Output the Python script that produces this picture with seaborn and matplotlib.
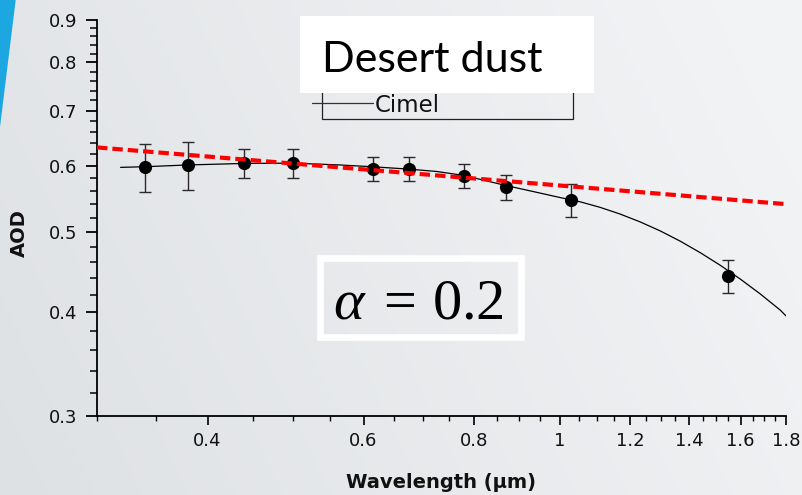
import numpy as np
import matplotlib
matplotlib.use("Agg")
import matplotlib.pyplot as plt
import seaborn as sns
from matplotlib.patches import Rectangle, Polygon
from matplotlib.lines import Line2D
from matplotlib.ticker import FixedLocator, FixedFormatter, NullFormatter

# Cimel sun-photometer AOD spectrum for a desert-dust case
wavelength = [0.34, 0.38, 0.44, 0.50, 0.615, 0.675, 0.78, 0.87, 1.03, 1.55]
aod = [0.598, 0.602, 0.605, 0.605, 0.595, 0.596, 0.584, 0.566, 0.546, 0.442]
aod_err = [0.040, 0.040, 0.025, 0.025, 0.020, 0.020, 0.020, 0.020, 0.025, 0.020]

# Smooth spectral fit through the measurements
fit_wl = [0.319, 0.339, 0.38, 0.439, 0.499, 0.564, 0.614, 0.673, 0.726, 0.779,
          0.869, 0.932, 1.0, 1.054, 1.110, 1.169, 1.232, 1.298, 1.367, 1.440,
          1.517, 1.598, 1.684, 1.774, 1.80]
fit_aod = [0.598, 0.599, 0.602, 0.6045, 0.605, 0.602, 0.599, 0.5952, 0.5912, 0.5847,
           0.5686, 0.5593, 0.5500, 0.5435, 0.5352, 0.5254, 0.5140, 0.5013, 0.4873, 0.4720,
           0.4558, 0.4387, 0.4208, 0.4023, 0.3960]

# Power-law (Angstrom) reference line
angstrom_wl = [0.30, 1.80]
angstrom_aod = [0.632, 0.540]

x_major = [0.4, 0.6, 0.8, 1.0, 1.2, 1.4, 1.6, 1.8]
x_labels = ["0.4", "0.6", "0.8", "1", "1.2", "1.4", "1.6", "1.8"]
y_major = [0.3, 0.4, 0.5, 0.6, 0.7, 0.8, 0.9]
y_labels = ["0.3", "0.4", "0.5", "0.6", "0.7", "0.8", "0.9"]

sns.set_theme(style="ticks")
plt.rcParams["font.family"] = ["DejaVu Sans"]
plt.rcParams["mathtext.fontset"] = "custom"
plt.rcParams["mathtext.rm"] = "Liberation Serif"
plt.rcParams["mathtext.it"] = "Liberation Serif:italic"
plt.rcParams["mathtext.bf"] = "Liberation Serif:bold"

W, H = 803, 495
fig = plt.figure(figsize=(W / 100, H / 100), dpi=100)


def fx(px):
    return px / W


def fy(py):
    return 1 - py / H


# slide-style background
bg = fig.add_axes([0, 0, 1, 1], zorder=-10)
gx = np.linspace(0, 1, 400)[None, :]
gy = np.linspace(0, 1, 250)[:, None]
left = np.array([222, 225, 228]) / 255
right = np.array([242, 243, 245]) / 255
t = np.clip(gx * 0.85 + gy * 0.25, 0, 1)
img = left[None, None, :] * (1 - t[..., None]) + right[None, None, :] * t[..., None]
bg.imshow(img, extent=[0, 1, 0, 1], aspect="auto", origin="lower")
bg.add_patch(Polygon([(0, 1), (fx(15.7), 1), (0, fy(127))], closed=True,
                     facecolor="#1ca7e1", edgecolor="none"))
bg.set_xlim(0, 1)
bg.set_ylim(0, 1)
bg.axis("off")

ax = fig.add_axes([fx(97), fy(416), 689 / W, 396 / H])
ax.set_facecolor("none")
ax.set_xscale("log")
ax.set_yscale("log")

ax.errorbar(wavelength, aod, yerr=aod_err, fmt="none", ecolor="#2a2a2a",
            elinewidth=1.0, capsize=4.3, capthick=1.0, zorder=3)
sns.lineplot(x=fit_wl, y=fit_aod, color="black", lw=0.9, ax=ax, zorder=2)
sns.scatterplot(x=wavelength, y=aod, color="black", s=90, linewidth=0,
                ax=ax, zorder=4)
sns.lineplot(x=angstrom_wl, y=angstrom_aod, color="#ff0000", lw=3, ax=ax, zorder=5)
ax.lines[-1].set_dashes([2.5, 1.2])

ax.set_xlim(0.3, 1.8)
ax.set_ylim(0.3, 0.9)

x_minor = [v for v in np.round(np.arange(0.30, 1.8001, 0.05), 2) if v not in x_major]
y_minor = [v for v in np.round(np.arange(0.30, 0.9001, 0.02), 2) if v not in y_major]
ax.xaxis.set_major_locator(FixedLocator(x_major))
ax.xaxis.set_major_formatter(FixedFormatter(x_labels))
ax.xaxis.set_minor_locator(FixedLocator(x_minor))
ax.xaxis.set_minor_formatter(NullFormatter())
ax.yaxis.set_major_locator(FixedLocator(y_major))
ax.yaxis.set_major_formatter(FixedFormatter(y_labels))
ax.yaxis.set_minor_locator(FixedLocator(y_minor))
ax.yaxis.set_minor_formatter(NullFormatter())

sns.despine(ax=ax)
for side in ("left", "bottom"):
    ax.spines[side].set_linewidth(1.3)
    ax.spines[side].set_color("black")

ax.tick_params(axis="y", which="major", direction="out", length=8, width=1.3,
               pad=6, labelsize=13, colors="black", labelcolor="#111111")
ax.tick_params(axis="y", which="minor", direction="out", length=5, width=1.1,
               colors="black")
ax.tick_params(axis="x", which="major", direction="out", length=6.5, width=1.2,
               pad=5, labelsize=13, colors="black", labelcolor="#111111")
ax.tick_params(axis="x", which="minor", direction="out", length=3.5, width=1.0,
               colors="black")

ax.set_xlabel("Wavelength (μm)", fontweight="bold", fontsize=14, color="#111111")
ax.xaxis.label.set_va("center")
ax.xaxis.set_label_coords(0.5, (416 - 483) / 396)
ax.set_ylabel("AOD", fontweight="bold", fontsize=14, color="#111111")
ax.yaxis.label.set_va("center")
ax.yaxis.set_label_coords(-0.112, (416 - 233) / 396)

# Origin-style legend box
fig.add_artist(Rectangle((fx(322), fy(119)), (573 - 322) / W, (119 - 75) / H,
                         transform=fig.transFigure, facecolor="none",
                         edgecolor="#222222", lw=0.9, zorder=6))
fig.add_artist(Line2D([fx(312), fx(373)], [fy(102.7), fy(102.7)],
                      transform=fig.transFigure, color="#333333", lw=0.9, zorder=6))
fig.text(fx(375), fy(111.7), "Cimel", fontsize=16.5, color="#111111",
         va="baseline", ha="left", zorder=7)

# Title card
fig.add_artist(Rectangle((fx(300), fy(92.7)), (594 - 300) / W, (92.7 - 16) / H,
                         transform=fig.transFigure, facecolor="white",
                         edgecolor="none", zorder=8))
fig.text(fx(321.7), fy(71.7), "Desert dust", fontsize=31, family=["Lato", "DejaVu Sans"],
         color="black", va="baseline", ha="left", zorder=9)

# Angstrom exponent annotation
fig.add_artist(Rectangle((fx(320), fy(336.7)), (520.7 - 320) / W, (336.7 - 258.3) / H,
                         transform=fig.transFigure, facecolor="none",
                         edgecolor="white", lw=4.8, zorder=8))
fig.text(fx(333), fy(318.3), r"$\alpha\;=\,0.2$", fontsize=42, color="black",
         va="baseline", ha="left", zorder=9)

fig.savefig("out.png", dpi=100)
